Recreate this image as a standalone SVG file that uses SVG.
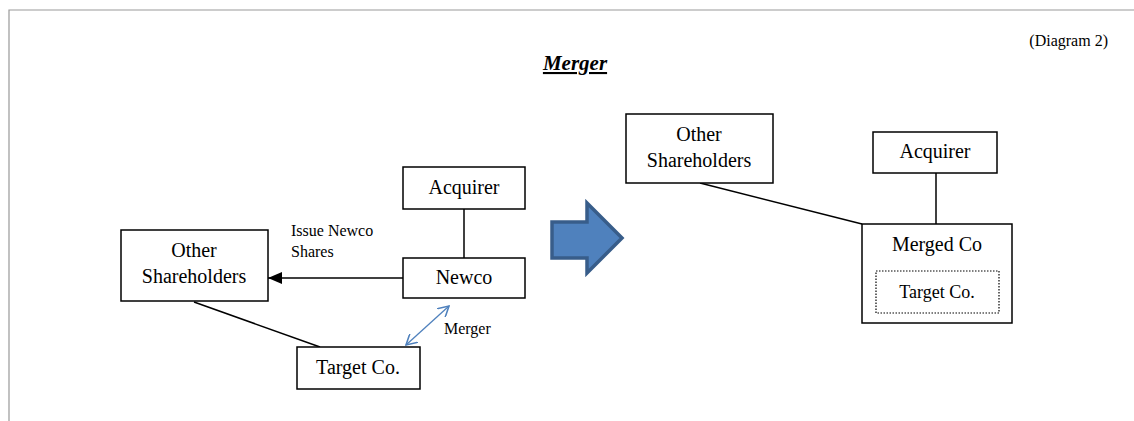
<svg xmlns="http://www.w3.org/2000/svg" width="1134" height="421" viewBox="0 0 1134 421">
<style>
.box{fill:#fff;stroke:#000;stroke-width:1.5}
.t{font-family:"Liberation Serif",serif;font-size:20px;fill:#000;text-anchor:middle}
.s{font-family:"Liberation Serif",serif;font-size:16px;fill:#000}
.ln{stroke:#000;stroke-width:1.5;fill:none}
</style>
<defs>
<marker id="ah" viewBox="0 0 14 12" refX="14" refY="6" markerWidth="14" markerHeight="12" markerUnits="userSpaceOnUse" orient="auto"><path d="M0,0 L14,6 L0,12 z" fill="#000"/></marker>
<marker id="bh" viewBox="0 0 10 10" refX="9" refY="5" markerWidth="12" markerHeight="12" markerUnits="userSpaceOnUse" orient="auto-start-reverse"><path d="M0,0 L9,5 L0,10" fill="none" stroke="#4F81BD" stroke-width="1.3"/></marker>
</defs>
<rect x="0" y="0" width="1134" height="421" fill="#fff"/>
<path d="M9,421 L9,10 L1134,10" fill="none" stroke="#999" stroke-width="1.2"/>
<text x="1108" y="46" class="s" text-anchor="end">(Diagram 2)</text>
<text x="575" y="70" class="t" style="font-weight:bold;font-style:italic;font-size:21px;text-decoration:underline">Merger</text>
<g id="connectors">
<line class="ln" x1="464" y1="209" x2="464" y2="258"/>
<line class="ln" x1="403" y1="278" x2="268" y2="278" marker-end="url(#ah)"/>
<line class="ln" x1="194" y1="302" x2="320" y2="347"/>
<line x1="406" y1="345" x2="449" y2="306" stroke="#4F81BD" stroke-width="1.3" marker-start="url(#bh)" marker-end="url(#bh)"/>
<line class="ln" x1="700" y1="183" x2="862" y2="224"/>
<line class="ln" x1="936" y1="173" x2="936" y2="224"/>
</g>
<text x="291" y="236" class="s">Issue Newco</text>
<text x="291" y="257" class="s">Shares</text>
<text x="444" y="334" class="s">Merger</text>
<g id="bigarrow"><path d="M552,222 L587,222 L587,203 L622,238 L587,273 L587,258 L552,258 Z" fill="#4F81BD" stroke="#385D8A" stroke-width="3.5" stroke-linejoin="miter"/></g>
<g id="acquirer1"><rect class="box" x="403" y="167" width="122" height="42"/><text x="464" y="194" class="t">Acquirer</text></g>
<g id="newco"><rect class="box" x="403" y="258" width="122" height="40"/><text x="464" y="284" class="t">Newco</text></g>
<g id="other1"><rect class="box" x="121" y="230" width="147" height="71"/><text x="194" y="257" class="t">Other</text><text x="194" y="283" class="t">Shareholders</text></g>
<g id="target1"><rect class="box" x="297" y="347" width="123" height="42"/><text x="358" y="374" class="t">Target Co.</text></g>
<g id="other2"><rect class="box" x="626" y="114" width="147" height="69"/><text x="699" y="141" class="t">Other</text><text x="699" y="167" class="t">Shareholders</text></g>
<g id="acquirer2"><rect class="box" x="873" y="132" width="124" height="41"/><text x="935" y="158" class="t">Acquirer</text></g>
<g id="merged"><rect class="box" x="862" y="224" width="150" height="99"/><text x="937" y="251" class="t">Merged Co</text>
<rect x="876" y="271" width="123" height="42" fill="none" stroke="#000" stroke-width="1.2" stroke-dasharray="1.5,1.5"/><text x="937" y="298" class="t" style="font-size:18px">Target Co.</text></g>
</svg>
